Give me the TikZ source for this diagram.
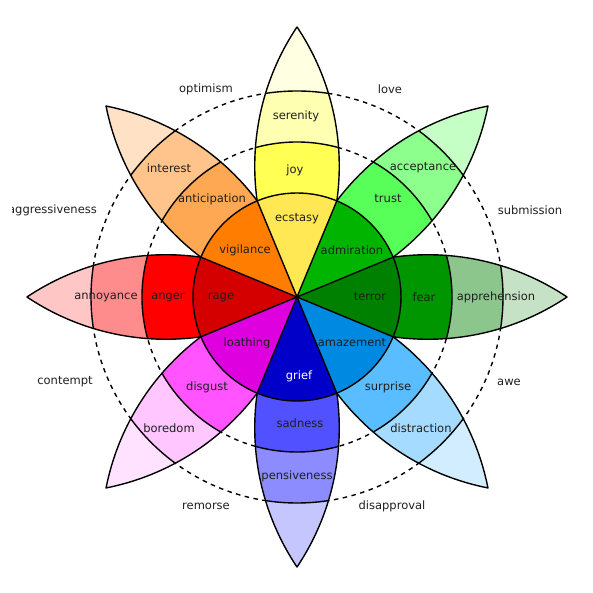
\documentclass[tikz,border=0pt]{standalone}
\usepackage{fontspec}
\setmainfont{DejaVu Sans}
\begin{document}
\begin{tikzpicture}[x=1pt,y=1pt,
  lbl/.style={font=\fontsize{11.5}{13}\selectfont, text=black!88, inner sep=0pt},
  outline/.style={draw=black, line width=1.4pt, line join=round},
  ring/.style={draw=black, line width=1.4pt},
  dashring/.style={draw=black, line width=1.4pt, dash pattern=on 4.5pt off 4.5pt}]
\clip (-297,-296) rectangle (296,297);
\fill[white] (-297,-296) rectangle (296,297);
% dashed circles
\draw[dashring] (0,0) circle[radius=155];
\draw[dashring] (0,0) circle[radius=206];
% petal macro
\newcommand{\petalpath}{(-8.2,0) arc[start angle=123.8, end angle=56.2, radius=250.1] arc[start angle=-56.2, end angle=-123.8, radius=250.1] -- cycle}
\newcommand{\mypetal}[5]{%
  \begin{scope}[rotate=#1]
    \begin{scope}
      \clip \petalpath;
      \fill[#5] (0,0) circle[radius=280];
      \fill[#4] (0,0) circle[radius=206];
      \fill[#3] (0,0) circle[radius=155];
      \draw[ring] (0,0) circle[radius=155];
      \draw[ring] (0,0) circle[radius=206];
    \end{scope}
    \draw[outline] \petalpath;
  \end{scope}}
\definecolor{joyA}{HTML}{FFE854}\definecolor{joyB}{HTML}{FFFF54}\definecolor{joyC}{HTML}{FFFFB1}\definecolor{joyD}{HTML}{FFFFE1}
\definecolor{trA}{HTML}{00B400}\definecolor{trB}{HTML}{59FF59}\definecolor{trC}{HTML}{8CFF8C}\definecolor{trD}{HTML}{C6FFC6}
\definecolor{feA}{HTML}{008000}\definecolor{feB}{HTML}{009600}\definecolor{feC}{HTML}{8CC68C}\definecolor{feD}{HTML}{C6E2C6}
\definecolor{suA}{HTML}{0089E0}\definecolor{suB}{HTML}{59BDFF}\definecolor{suC}{HTML}{A5DBFF}\definecolor{suD}{HTML}{D2EDFF}
\definecolor{saA}{HTML}{0000C8}\definecolor{saB}{HTML}{5151FF}\definecolor{saC}{HTML}{8C8CFF}\definecolor{saD}{HTML}{C6C6FF}
\definecolor{diA}{HTML}{DE00DE}\definecolor{diB}{HTML}{FF54FF}\definecolor{diC}{HTML}{FFC6FF}\definecolor{diD}{HTML}{FFE2FF}
\definecolor{anA}{HTML}{D40000}\definecolor{anB}{HTML}{FF0000}\definecolor{anC}{HTML}{FF8C8C}\definecolor{anD}{HTML}{FFC6C6}
\definecolor{viA}{HTML}{FF7D00}\definecolor{viB}{HTML}{FFA854}\definecolor{viC}{HTML}{FFC48C}\definecolor{viD}{HTML}{FFE2C6}
\mypetal{90}{}{joyB}{joyC}{joyD}
\mypetal{45}{}{trB}{trC}{trD}
\mypetal{0}{}{feB}{feC}{feD}
\mypetal{-45}{}{suB}{suC}{suD}
\mypetal{-90}{}{saB}{saC}{saD}
\mypetal{-135}{}{diB}{diC}{diD}
\mypetal{180}{}{anB}{anC}{anD}
\mypetal{135}{}{viB}{viC}{viD}
% inner wedges
\newcommand{\innerwedge}[2]{\fill[#2] (0,0) -- (#1-22.5:104) arc[start angle=#1-22.5, end angle=#1+22.5, radius=104] -- cycle;}
\innerwedge{90}{joyA}\innerwedge{45}{trA}\innerwedge{0}{feA}\innerwedge{-45}{suA}
\innerwedge{-90}{saA}\innerwedge{-135}{diA}\innerwedge{180}{anA}\innerwedge{135}{viA}
\foreach \a in {22.5,67.5,...,337.5} \draw[ring] (0,0) -- (\a:104);
\draw[ring] (0,0) circle[radius=104];
% inner labels
\node[lbl] (ecstasy) at (0,78) {ecstasy};
\node[lbl] (vigilance) at (-52,47) {vigilance};
\node[lbl] (admiration) at (55,47) {admiration};
\node[lbl] (rage) at (-76,0) {rage};
\node[lbl] (terror) at (73,0) {terror};
\node[lbl] (loathing) at (-50,-46) {loathing};
\node[lbl] (amazement) at (55,-46) {amazement};
\node[lbl, text=white] (grief) at (2,-79) {grief};
% middle labels
\node[lbl] (joy) at (-2,127) {joy};
\node[lbl] (trust) at (91,98) {trust};
\node[lbl] (fear) at (127,0) {fear};
\node[lbl] (surprise) at (91,-90) {surprise};
\node[lbl] (sadness) at (3,-126) {sadness};
\node[lbl] (disgust) at (-90,-90) {disgust};
\node[lbl] (anger) at (-129,0) {anger};
\node[lbl] (anticipation) at (-85,98) {anticipation};
% outer labels
\node[lbl] (serenity) at (-1,181) {serenity};
\node[lbl] (acceptance) at (126,129) {acceptance};
\node[lbl] (apprehension) at (199,0) {apprehension};
\node[lbl] (distraction) at (124,-131) {distraction};
\node[lbl] (pensiveness) at (0,-179) {pensiveness};
\node[lbl] (boredom) at (-128,-131) {boredom};
\node[lbl] (annoyance) at (-191,0) {annoyance};
\node[lbl] (interest) at (-128,129) {interest};
% dyads
\node[lbl] (optimism) at (-91,208) {optimism};
\node[lbl] (love) at (93,208) {love};
\node[lbl] (submission) at (233,87) {submission};
\node[lbl] (awe) at (212,-85) {awe};
\node[lbl] (disapproval) at (95,-209) {disapproval};
\node[lbl] (remorse) at (-91,-209) {remorse};
\node[lbl] (contempt) at (-232,-85) {contempt};
\begin{scope}
  \clip (-284,75) rectangle (-180,100);
  \node[lbl, anchor=east] (aggressiveness) at (-200,87) {aggressiveness};
\end{scope}
\end{tikzpicture}
\end{document}
